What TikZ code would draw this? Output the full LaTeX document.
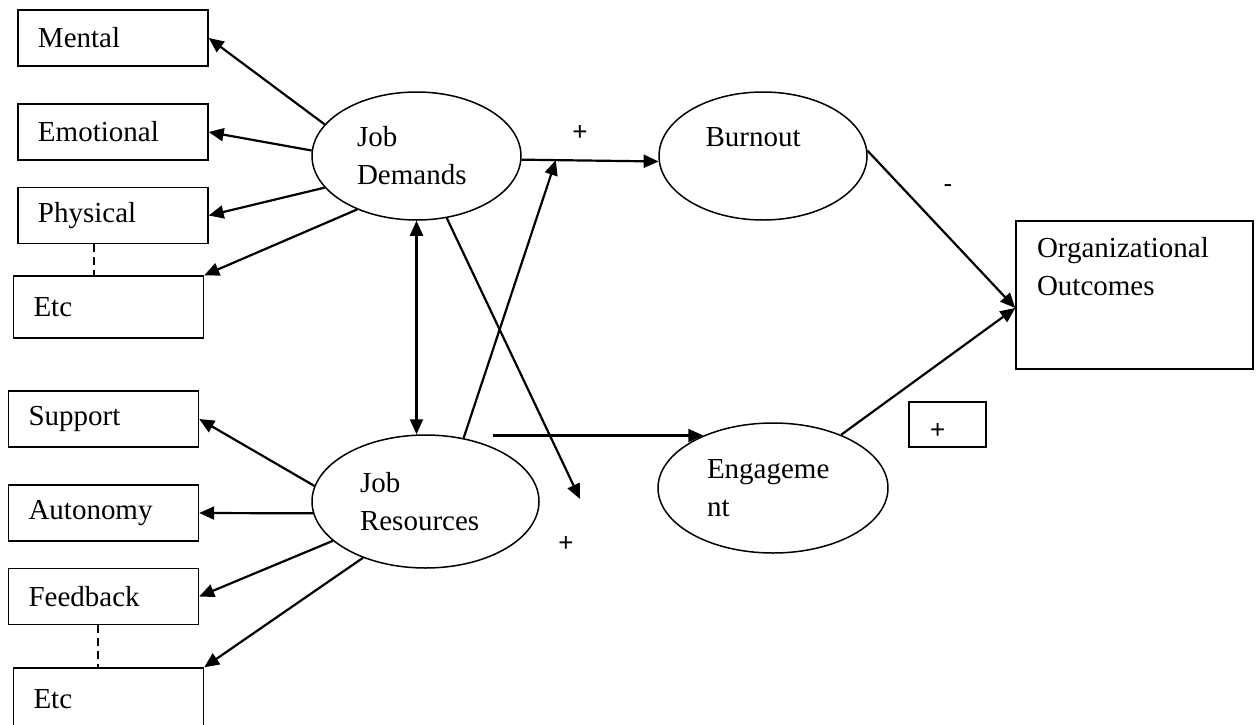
\documentclass[tikz,border=0pt]{standalone}
\usepackage{fontspec}
\setmainfont{Liberation Serif}
\newfontfamily\signfont{Liberation Sans}
\usetikzlibrary{shapes.geometric, arrows.meta, positioning, calc}

\begin{document}
\begin{tikzpicture}[x=0.5pt, y=-0.5pt,
    font=\fontsize{14.5}{19}\selectfont,
    >={Triangle[length=7.5pt, width=6.5pt]},
    factor/.style={draw, line width=0.7pt, rectangle, text width=75pt, inner xsep=10pt,
                   inner ysep=0pt, minimum height=28pt, align=left},
    latent/.style={draw, line width=0.75pt, ellipse, inner sep=0pt, align=left},
    link/.style={->, line width=1.1pt},
    sign/.style={font=\signfont\fontsize{13}{15}\selectfont, inner sep=0pt}
]
    \useasboundingbox (0,0) rectangle (1259,724);

    % Job demand indicators
    \node[factor] (mental) at (113,38) {Mental};
    \node[factor] (emotional) at (113,132) {Emotional};
    \node[factor] (physical) at (113,215.5) {Physical};
    \node[factor, minimum height=31pt] (etcA) at (108.5,307) {Etc};

    % Job resource indicators
    \node[factor] (support) at (103.5,419) {Support};
    \node[factor] (autonomy) at (103.5,513) {Autonomy};
    \node[factor] (feedback) at (103.5,596.5) {Feedback};
    \node[factor, minimum height=31pt] (etcB) at (108.5,699) {Etc};

    % Latent constructs
    \node[latent, minimum width=104.5pt, minimum height=64pt, text width=59.5pt] (jd) at (416.5,156) {Job\\Demands};
    \node[latent, minimum width=104pt, minimum height=64pt, text width=57.5pt] (burnout) at (763,156) {Burnout\\\mbox{}};
    \node[latent, minimum width=113.5pt, minimum height=66.5pt, text width=65.5pt] (jr) at (425.5,501.5) {Job\\Resources};
    \node[latent, minimum width=115pt, minimum height=65pt, text width=66pt] (engage) at (773,488) {Engageme\\nt};

    % Outcome box
    \node[draw, line width=0.7pt, text width=97.5pt, inner xsep=10.5pt, inner ysep=0pt,
          minimum height=74pt, align=left] (org) at (1134.5,295) {Organizational\\Outcomes\\[10pt]\mbox{}};
    \node[draw, line width=0.7pt, sign, text width=17.5pt, inner xsep=10.5pt, minimum height=22.5pt,
          text height=14pt, text depth=0pt, align=left] (plusbox) at (947.5,424.5) {+};

    % Signs
    \node[sign] (plusA) at (580,133) {+};
    \node[sign] (plusB) at (566,544) {+};
    \node[sign] (minus) at (948,189) {-};

    \coordinate (meet) at ($(jd.-2)!0.25!(burnout.183)$);
    \coordinate (modend) at (580,499);
    \coordinate (orgin) at ([yshift=-6.5pt]org.west);

    % Arrows to the indicators
    \draw[link] (jd.161) -- (mental.east);
    \draw[link] (jd.177) -- (emotional.east);
    \draw[link] (jd.199) -- (physical.east);
    \draw[link] (jd.222) -- (etcA.north east);
    \draw[link] (jr.172) -- (support.east);
    \draw[link] (jr.186) -- (autonomy.east);
    \draw[link] (jr.203) -- (feedback.east);
    \draw[link] (jr.222) -- (etcB.north east);
    \draw[line width=0.6pt, dash pattern=on 4pt off 2.5pt] ([xshift=-9.5pt]physical.south) -- ([xshift=-9.5pt]physical.south |- etcA.north);
    \draw[line width=0.6pt, dash pattern=on 4pt off 2.5pt] ([xshift=-2.75pt]feedback.south) -- ([xshift=-2.75pt]feedback.south |- etcB.north);

    % Main paths
    \draw[<->, line width=1.1pt] (jd.south) -- (jd.south |- jr.north);
    \draw[link] (jd.-2) -- (burnout.183);
    \draw[link] (jr.59) -- (meet);
    \draw[link] (jd.-64) -- (modend);
    \draw[link] (jr.39 |- engage.143) -- (engage.143);
    \draw[link] (burnout.3) -- (orgin);
    \draw[link] (engage.38) -- (orgin);
\end{tikzpicture}
\end{document}
